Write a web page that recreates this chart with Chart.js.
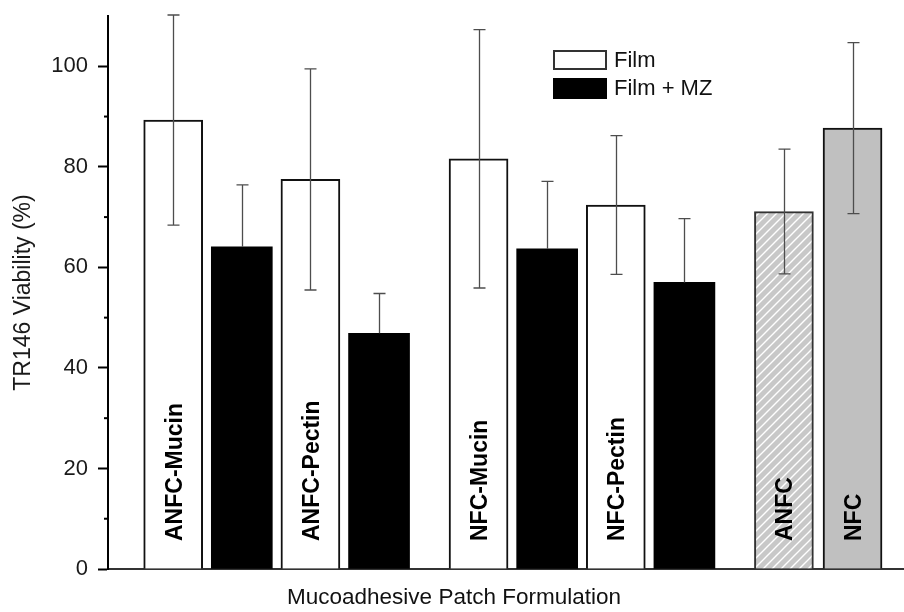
<!DOCTYPE html>
<html>
<head>
<meta charset="utf-8">
<script src="https://cdn.jsdelivr.net/npm/chart.js@4.4.1/dist/chart.umd.min.js"></script>
<style>
  html, body { margin: 0; padding: 0; background: #fff; }
  #wrap { width: 904px; height: 612px; }
</style>
</head>
<body>
<div id="wrap"><canvas id="grafico"></canvas></div>
<script>
// Dados
const filmLabels = ['ANFC-Mucin', 'ANFC-Pectin', 'NFC-Mucin', 'NFC-Pectin'];
const filmValues = [89.3, 77.5, 81.6, 72.4];
const filmErrors = [20.9, 22.0, 25.7, 13.8];
const mzValues = [64.1, 46.9, 63.7, 57.0];
const mzErrors = [12.3, 7.9, 13.4, 12.7];
const controlLabels = ['ANFC', 'NFC'];
const controlValues = [71.1, 87.7];
const controlErrors = [12.4, 17.0];
const yTicks = [0, 20, 40, 60, 80, 100];

const FONT = '"Liberation Sans", Arial, sans-serif';
const GROUP_STEP = 4.45;

// posições no eixo x (pares Film / Film + MZ, depois os controles)
function filmX(i) { return 1 + Math.floor(i / 2) * GROUP_STEP + (i % 2) * 2; }
function controlX(i) { return 1 + 2 * GROUP_STEP + i; }

// padrão hachurado para o ANFC
function hatch() {
    const c = document.createElement('canvas');
    c.width = 9; c.height = 9;
    const g = c.getContext('2d');
    g.fillStyle = '#c8c8c8';
    g.fillRect(0, 0, 9, 9);
    g.strokeStyle = '#ffffff';
    g.lineWidth = 1.4;
    g.beginPath();
    g.moveTo(-1, 10); g.lineTo(10, -1);
    g.moveTo(-1, 1); g.lineTo(1, -1);
    g.moveTo(8, 10); g.lineTo(10, 8);
    g.stroke();
    return g.createPattern(c, 'repeat');
}

const datasets = [
    {
        label: 'Film',
        data: filmValues.map((v, i) => ({ x: filmX(i), y: v })),
        errors: filmErrors,
        names: filmLabels,
        backgroundColor: '#ffffff',
        borderColor: '#111111',
        borderWidth: 2,
        barThickness: 59,
        grouped: false
    },
    {
        label: 'Film + MZ',
        data: mzValues.map((v, i) => ({ x: filmX(i) + 1, y: v })),
        errors: mzErrors,
        upperOnly: true,   // a parte de baixo fica escondida na barra preta
        backgroundColor: '#000000',
        borderWidth: 0,
        barThickness: 61,
        grouped: false
    },
    {
        label: 'Controle',
        data: controlValues.map((v, i) => ({ x: controlX(i), y: v })),
        errors: controlErrors,
        names: controlLabels,
        backgroundColor: [hatch(), '#c0c0c0'],
        borderColor: ['#333333', '#111111'],
        borderWidth: 2,
        barThickness: 59,
        grouped: false
    }
];

// barras de erro, rótulos, legenda e título do eixo x
const extras = {
    id: 'extras',
    afterDatasetsDraw(chart) {
        const ctx = chart.ctx;
        const x = chart.scales.x, y = chart.scales.y;
        ctx.save();

        // traços menores do eixo y
        ctx.strokeStyle = '#000';
        ctx.lineWidth = 2;
        for (let v = 10; v < 110; v += 20) {
            const py = y.getPixelForValue(v);
            ctx.beginPath();
            ctx.moveTo(chart.chartArea.left - 4, py);
            ctx.lineTo(chart.chartArea.left, py);
            ctx.stroke();
        }

        // barras de erro
        ctx.strokeStyle = '#4d4d4d';
        ctx.lineWidth = 1.3;
        chart.data.datasets.forEach(ds => {
            ds.data.forEach((p, i) => {
                const px = Math.round(x.getPixelForValue(p.x)) + 0.5;
                const top = y.getPixelForValue(p.y + ds.errors[i]);
                const bot = ds.upperOnly ? y.getPixelForValue(p.y) : y.getPixelForValue(p.y - ds.errors[i]);
                ctx.beginPath();
                ctx.moveTo(px, top); ctx.lineTo(px, bot);
                ctx.moveTo(px - 6, top); ctx.lineTo(px + 6, top);
                if (!ds.upperOnly) {
                    ctx.moveTo(px - 6, bot); ctx.lineTo(px + 6, bot);
                }
                ctx.stroke();
            });
        });

        // rótulos verticais dentro das barras
        ctx.fillStyle = '#000';
        ctx.font = 'bold 23px ' + FONT;
        ctx.textAlign = 'left';
        ctx.textBaseline = 'alphabetic';
        chart.data.datasets.forEach(ds => {
            if (!ds.names) return;
            ds.data.forEach((p, i) => {
                const px = x.getPixelForValue(p.x);
                ctx.save();
                ctx.translate(px + 8.5, 541);
                ctx.rotate(-Math.PI / 2);
                ctx.fillText(ds.names[i], 0, 0);
                ctx.restore();
            });
        });

        // legenda
        ctx.fillStyle = '#fff';
        ctx.fillRect(554, 51, 52, 18);
        ctx.strokeStyle = '#333';
        ctx.lineWidth = 2;
        ctx.strokeRect(554, 51, 52, 18);
        ctx.fillStyle = '#000';
        ctx.fillRect(553, 78, 54, 21);
        ctx.font = '22px ' + FONT;
        ctx.textBaseline = 'middle';
        ctx.fillStyle = '#111';
        ctx.fillText(chart.data.datasets[0].label, 614, 61);
        ctx.fillText(chart.data.datasets[1].label, 614, 89);

        // título do eixo x
        ctx.textAlign = 'center';
        ctx.font = '22.5px ' + FONT;
        ctx.fillText('Mucoadhesive Patch Formulation', 454, 598);
        ctx.restore();
    }
};

const grafico = new Chart(document.getElementById('grafico'), {
    type: 'bar',
    data: { datasets: datasets },
    options: {
        responsive: true,
        maintainAspectRatio: false,
        animation: false,
        layout: { padding: { top: 16, right: 0, left: 0, bottom: 0 } },
        plugins: {
            legend: { display: false },
            tooltip: { enabled: false }
        },
        scales: {
            x: {
                type: 'linear',
                offset: false,
                min: 0.05,
                max: 11.65,
                grid: { display: false },
                border: { display: true, color: '#333', width: 2 },
                ticks: { display: false },
                afterFit(scale) {
                    scale.height = 43;
                    scale.paddingLeft = 0;
                    scale.paddingRight = 0;
                }
            },
            y: {
                min: 0,
                max: 110,
                grid: {
                    drawOnChartArea: false,
                    tickLength: 10,
                    tickWidth: 2,
                    tickColor: '#000'
                },
                border: { display: true, color: '#000', width: 2 },
                afterBuildTicks(scale) {
                    scale.ticks = yTicks.map(v => ({ value: v }));
                },
                ticks: {
                    padding: 10,
                    color: '#1a1a1a',
                    font: { family: FONT, size: 22 }
                },
                title: {
                    display: true,
                    text: 'TR146 Viability (%)',
                    color: '#1a1a1a',
                    font: { family: FONT, size: 23 },
                    padding: { top: 10, bottom: 0 }
                },
                afterFit(scale) {
                    scale.width = 108;
                    scale.paddingTop = 0;
                    scale.paddingBottom = 0;
                }
            }
        }
    },
    plugins: [extras]
});
</script>
</body>
</html>
